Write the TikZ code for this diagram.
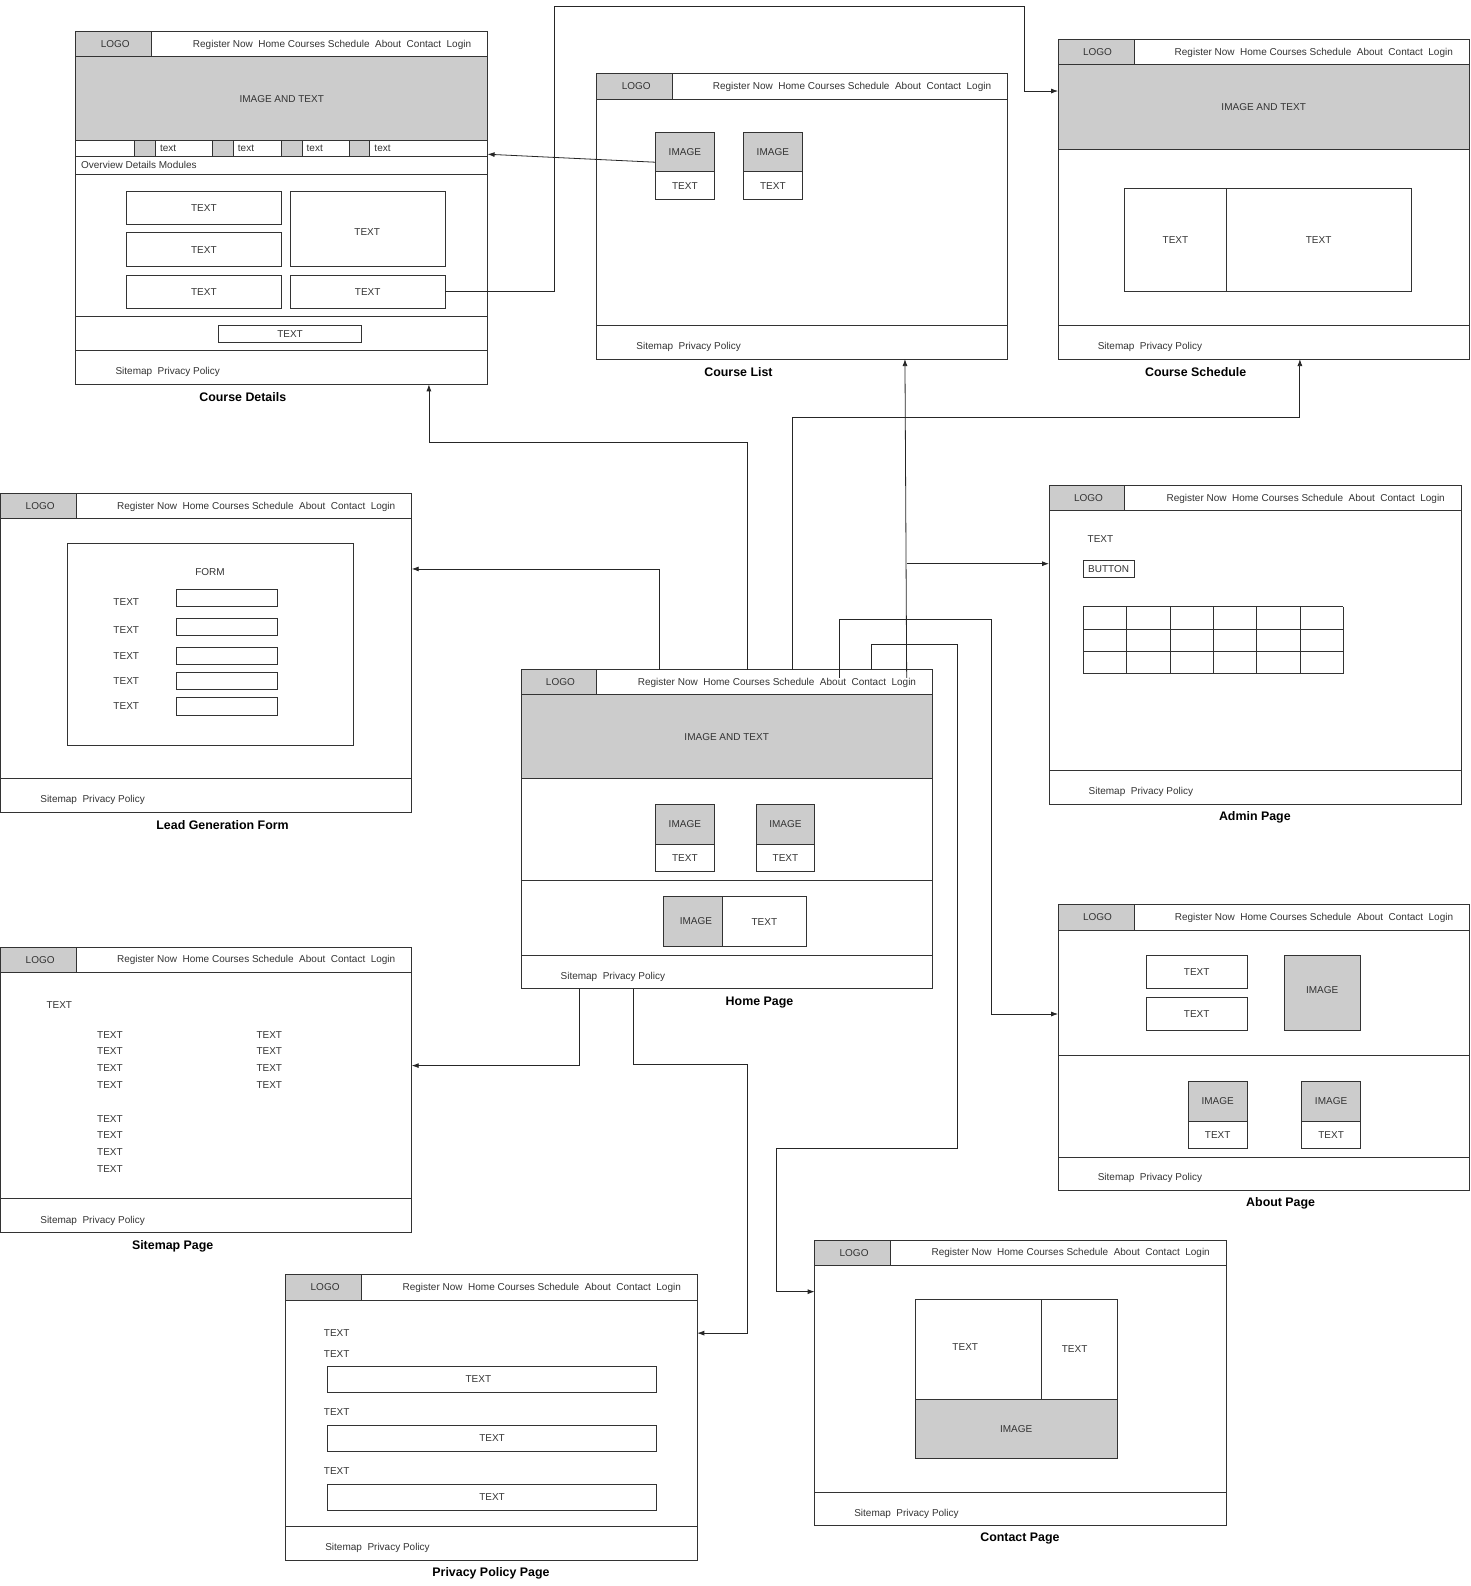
\documentclass[tikz,border=0pt]{standalone}
\usepackage{fontspec}
\setmainfont{Liberation Sans}
\usepackage{tikz}
\usetikzlibrary{positioning}
\usetikzlibrary{fit}
\usetikzlibrary{arrows.meta}
\tikzset{
    frame/.style = {rectangle, draw=black!80, line width=0.9pt, inner sep=0pt, outer sep=0pt},
    graybox/.style = {frame, fill=black!20},
    whitebox/.style = {frame},
    txt/.style = {label={[lbl]center:#1}},
    rule/.style = {draw=black!80, line width=0.9pt},
    lbl/.style = {inner sep=0pt, font=\fontsize{10}{12}\selectfont, text=black!80},
    pagetitle/.style = {inner sep=0pt, font=\fontsize{12.4}{14}\selectfont\bfseries, text=black},
    link/.style = {-{Latex[length=7pt,width=5pt]}, draw=black!85, line width=0.8pt}, % page flow
}
\newcommand{\navgap}{\hspace{0.55em}}
% page chrome: name, left, top, right, bottom, footer line, title x, title
\newcommand{\wireframe}[8]{%
  \node[frame, fit={(#2,#3) (#4,#5)}] (#1) {};
  \node[graybox, fit={(#2,#3) (#2+75,#3+25)}] (#1-logo) {};
  \node[lbl] at (#2+39,#3+12.5) (#1-logo-lbl) {LOGO};
  \draw[rule] (#2,#3+25) -- (#4,#3+25);
  \node[lbl, anchor=east] at (#4-16,#3+13) (#1-nav) {Register Now\navgap Home Courses Schedule\navgap About\navgap Contact\navgap Login};
  \draw[rule] (#2,#6) -- (#4,#6);
  \node[lbl, anchor=west] at (#2+39,#5-12) (#1-foot) {Sitemap\navgap Privacy Policy};
  \node[pagetitle] at (#7,#5+13) (#1-title) {#8};
}

\begin{document}
\begin{tikzpicture}[x=1.0116pt, y=-1.0115pt]
\useasboundingbox (0,0) rectangle (1454,1568);
%
% Course Details
\wireframe{cd}{75}{31}{482}{380}{346.7}{240}{Course Details}
\node[graybox, txt=IMAGE AND TEXT, fit={(75,56) (482,139)}] (cd-hero) {};
\draw[rule] (75,155) -- (482,155);
\draw[rule] (75,172) -- (482,172);
\foreach \x/\n in {133/1,210/2,278/3,345/4} {
  \node[graybox, fit={(\x,139) (\x+20.5,155)}] (cd-sq\n) {};
  \node[lbl, anchor=west] at (\x+25,146.5) (cd-tab\n) {text};
}
\node[lbl, anchor=west] at (80,163.5) (cd-tabs) {Overview Details Modules};
\draw[rule] (75,313) -- (482,313);
\node[whitebox, txt=TEXT, fit={(125,189) (278,222)}] (cd-t1) {};
\node[whitebox, txt=TEXT, fit={(125,230) (278,263.5)}] (cd-t2) {};
\node[whitebox, txt=TEXT, fit={(125,272) (278,305)}] (cd-t3) {};
\node[whitebox, fit={(287,189) (440,263.5)}] (cd-t4) {};
\node[lbl] at (363,229) (cd-t4-lbl) {TEXT};
\node[whitebox, txt=TEXT, fit={(287,272) (440,305)}] (cd-t5) {};
\node[whitebox, txt=TEXT, fit={(216,321.5) (357.5,338.5)}] (cd-t6) {};
%
% Course List
\wireframe{cl}{590}{73}{996}{355}{322}{730}{Course List}
\node[graybox, txt=IMAGE, fit={(648,131) (706,170)}] (cl-img1) {};
\node[whitebox, txt=TEXT, fit={(648,170) (706,197)}] (cl-txt1) {};
\node[graybox, txt=IMAGE, fit={(735,131) (793,170)}] (cl-img2) {};
\node[whitebox, txt=TEXT, fit={(735,170) (793,197)}] (cl-txt2) {};
%
% Course Schedule
\wireframe{cs}{1046}{39}{1452.5}{355}{322}{1182}{Course Schedule}
\node[graybox, txt=IMAGE AND TEXT, fit={(1046,64) (1452.5,147.5)}] (cs-hero) {};
\node[whitebox, txt=TEXT, fit={(1112,186.5) (1212,288.5)}] (cs-t1) {};
\node[whitebox, txt=TEXT, fit={(1212,186.5) (1395,288.5)}] (cs-t2) {};
%
% Admin Page
\wireframe{ap}{1037}{480}{1444.5}{795}{761.5}{1240.5}{Admin Page}
\node[lbl, anchor=west] at (1075,532.5) (ap-txt) {TEXT};
\node[whitebox, txt=BUTTON, fit={(1071,554) (1121,571)}] (ap-btn) {};
\foreach \c in {0,...,6} \draw[rule] (1071+\c*42.85,600) -- (1071+\c*42.85,666);
\foreach \r in {0,...,3} \draw[rule] (1071,600+\r*22) -- (1328,600+\r*22);
%
% Lead Generation Form
\wireframe{lg}{0.7}{488}{407}{803}{770}{220}{Lead Generation Form}
\node[whitebox, fit={(66.5,537) (349,737)}] (lg-form) {};
\node[lbl] at (207.6,566) (lg-head) {FORM};
\foreach \y/\t/\n in {583/595/1,611.5/623/2,640/648.2/3,665/673.2/4,690/698.2/5} {
  \node[lbl, anchor=west] at (112,\t) (lg-lbl\n) {TEXT};
  \node[whitebox, fit={(174.3,\y) (274,\y+17)}] (lg-in\n) {};
}
%
% Sitemap Page
\wireframe{sp}{0.7}{936.5}{407}{1218.7}{1185}{170.7}{Sitemap Page}
\node[lbl, anchor=west] at (45.8,994) (sp-head) {TEXT};
\foreach \y/\n in {1023/1,1039.5/2,1056/3,1072.5/4,1106/5,1122.5/6,1139/7,1155.7/8}
  \node[lbl, anchor=west] at (95.9,\y) (sp-a\n) {TEXT};
\foreach \y/\n in {1023/1,1039.5/2,1056/3,1072.5/4}
  \node[lbl, anchor=west] at (253.4,\y) (sp-b\n) {TEXT};
%
% Home Page
\wireframe{hp}{515}{662}{921.8}{977.7}{944.4}{750.8}{Home Page}
\node[graybox, txt=IMAGE AND TEXT, fit={(515,687) (921.8,770)}] (hp-hero) {};
\draw[rule] (515,870) -- (921.8,870);
\node[graybox, txt=IMAGE, fit={(648,795) (706,835)}] (hp-img1) {};
\node[whitebox, txt=TEXT, fit={(648,835) (706,862)}] (hp-txt1) {};
\node[graybox, txt=IMAGE, fit={(747.3,795) (805.6,835)}] (hp-img2) {};
\node[whitebox, txt=TEXT, fit={(747.3,835) (805.6,862)}] (hp-txt2) {};
\node[graybox, fit={(655.6,886.4) (714.2,936)}] (hp-img3) {};
\node[lbl] at (688,911) (hp-img3-lbl) {IMAGE};
\node[whitebox, txt=TEXT, fit={(714.2,886.4) (797,936)}] (hp-txt3) {};
%
% About Page
\wireframe{ab}{1046}{894.6}{1452.7}{1177}{1144}{1266}{About Page}
\draw[rule] (1046,1043.6) -- (1452.7,1043.6);
\node[whitebox, txt=TEXT, fit={(1133,944.7) (1233,977.6)}] (ab-t1) {};
\node[whitebox, txt=TEXT, fit={(1133,985.8) (1233,1019.1)}] (ab-t2) {};
\node[graybox, fit={(1270,944.7) (1345,1019.1)}] (ab-img) {};
\node[lbl] at (1307,978.5) (ab-img-lbl) {IMAGE};
\node[graybox, txt=IMAGE, fit={(1174.6,1068.8) (1233,1109)}] (ab-img1) {};
\node[whitebox, txt=TEXT, fit={(1174.6,1109) (1233,1135.4)}] (ab-txt1) {};
\node[graybox, txt=IMAGE, fit={(1286.7,1068.8) (1345,1109)}] (ab-img2) {};
\node[whitebox, txt=TEXT, fit={(1286.7,1109) (1345,1135.4)}] (ab-txt2) {};
%
% Contact Page
\wireframe{cp}{805.3}{1226}{1212.2}{1508.4}{1475.3}{1008.3}{Contact Page}
\node[whitebox, fit={(904.7,1284.6) (1029.7,1383.7)}] (cp-t1) {};
\node[lbl] at (954.2,1331.7) (cp-t1-lbl) {TEXT};
\node[whitebox, fit={(1029.7,1284.6) (1104.4,1383.7)}] (cp-t2) {};
\node[lbl] at (1062.3,1333.5) (cp-t2-lbl) {TEXT};
\node[graybox, txt=IMAGE, fit={(904.7,1383.7) (1104.4,1441.6)}] (cp-img) {};
%
% Privacy Policy Page
\wireframe{pp}{282.4}{1260.4}{689.3}{1542.4}{1509.6}{485.4}{Privacy Policy Page}
\foreach \y/\n in {1317.8/1,1338.4/2,1396.4/3,1454.6/4}
  \node[lbl, anchor=west] at (320,\y) (pp-lbl\n) {TEXT};
\node[whitebox, fit={(323.6,1351.4) (649.2,1376.7)}] (pp-t1) {};
\node[lbl] at (472.9,1363.5) (pp-t1-lbl) {TEXT};
\node[whitebox, txt=TEXT, fit={(323.6,1409.5) (649.2,1434.7)}] (pp-t2) {};
\node[whitebox, txt=TEXT, fit={(323.6,1467.5) (649.2,1492.8)}] (pp-t3) {};
%
% links
\coordinate (tap) at (896.3,557.3);
\draw[link] ([yshift=-10pt]cl-img1.west) -- (cd.east |- 0,152.5);
\draw[link] (cd-t5.east) -| (548,6) -| (1013,90) -- (cs.west |- 0,90);
\draw[link] (hp.north -| 739,0) |- (424,437.5) -- (cd.south -| 424,0);
\draw[link] (hp.north -| 652,0) |- (lg.east |- 0,562.5);
\draw[link] (hp.north -| 783,0) |- (1285,413) -- (cs.south -| 1285,0);
\draw[link] (hp-nav.north -| 896.3,0) -- (cl.south -| 894.6,0);
\draw[link] (tap) -- (ap.west |- tap);
\draw[link] (hp-nav.north -| 830,0) |- (980,612.5) |- (ab.west |- 0,1002.5);
\draw[link] (hp.north -| 861,0) |- (946,637) |- (768,1135) |- (cp.west |- 0,1277);
\draw[link] (hp.south -| 573,0) |- (sp.east |- 0,1053.5);
\draw[link] (hp.south -| 626,0) |- (739,1052.5) |- (pp.east |- 0,1318);
\end{tikzpicture}
\end{document}
